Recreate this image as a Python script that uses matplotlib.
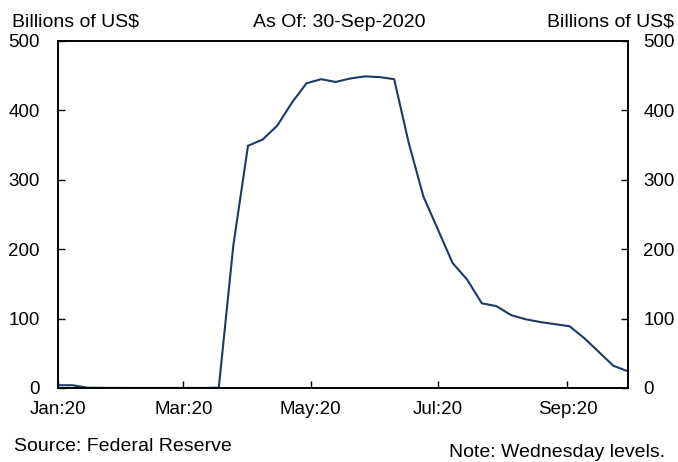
import matplotlib
matplotlib.use("Agg")
import matplotlib.pyplot as plt
import pandas as pd

plt.rcParams["font.family"] = ["Liberation Sans", "DejaVu Sans"]

# Wednesday levels, Jan 1 2020 - Sep 30 2020
DATES = pd.date_range("2020-01-01", periods=40, freq="W-WED")
VALUES = [
    4, 4, 0.4, 0.2, 0.2,           # Jan
    0.1, 0.1, 0.1, 0.1,            # Feb
    0.1, 0.1, 0.4, 206,            # Mar
    349, 358, 378, 411, 439,       # Apr
    445, 441, 446, 449,            # May
    448, 445, 353, 276,            # Jun
    228, 180, 156, 122, 118,       # Jul
    105, 99, 95, 92,               # Aug
    89, 72, 52, 32, 24,            # Sep
]
TICK_DATES = pd.to_datetime(["2020-01-01", "2020-03-01", "2020-05-01", "2020-07-01", "2020-09-01"])
TICK_LABELS = ["Jan:20", "Mar:20", "May:20", "Jul:20", "Sep:20"]
Y_TICKS = [0, 100, 200, 300, 400, 500]
LINE_COLOR = "#1f3864"
FS_TICK = 13.5
FS_TEXT = 14

W, H = 678, 462
fig = plt.figure(figsize=(W / 100, H / 100), dpi=100)
ax = fig.add_axes([58 / W, 74 / H, 570 / W, 347 / H])
ax.plot(DATES, VALUES, color=LINE_COLOR, lw=1.5)

ax.set_xlim(pd.Timestamp("2020-01-01"), pd.Timestamp("2020-09-30"))
ax.set_ylim(0, 500)
ax.set_xticks(TICK_DATES)
ax.set_xticklabels(TICK_LABELS)
ax.set_yticks(Y_TICKS)
ax.tick_params(axis="x", direction="in", length=5, width=1, pad=9.5, labelsize=FS_TICK)
ax.tick_params(axis="y", direction="in", length=5, width=1, pad=13, labelsize=FS_TICK)

ax2 = ax.twinx()
ax2.set_ylim(0, 500)
ax2.set_yticks(Y_TICKS)
ax2.tick_params(axis="y", direction="in", length=5, width=1, pad=11, labelsize=FS_TICK)
for a in (ax, ax2):
    for sp in a.spines.values():
        sp.set_linewidth(1.2)

fig.text(12 / W, 1 - 27 / H, "Billions of US$", fontsize=FS_TEXT, va="baseline", ha="left")
fig.text(339 / W, 1 - 27 / H, "As Of: 30-Sep-2020", fontsize=FS_TEXT, va="baseline", ha="center")
fig.text(674 / W, 1 - 27 / H, "Billions of US$", fontsize=FS_TEXT, va="baseline", ha="right")
fig.text(14 / W, 1 - 451 / H, "Source: Federal Reserve", fontsize=FS_TEXT, va="baseline", ha="left")
fig.text(665 / W, 1 - 457 / H, "Note: Wednesday levels.", fontsize=FS_TEXT, va="baseline", ha="right")

fig.savefig("out.png", dpi=100)
